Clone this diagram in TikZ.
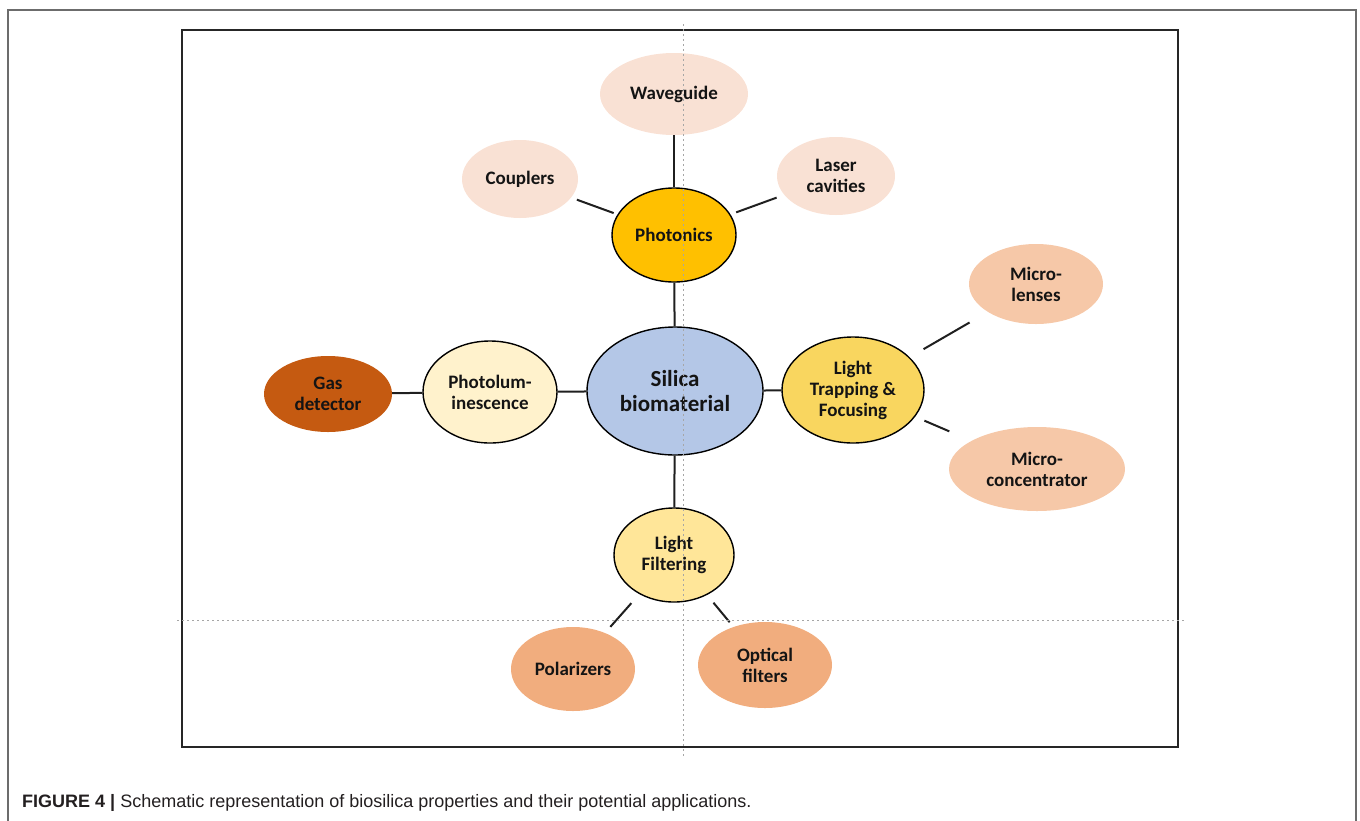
\documentclass[tikz,border=0pt]{standalone}
\usepackage{fontspec}
\setmainfont{Carlito}
\newfontfamily\capfont{Liberation Sans}
\usetikzlibrary{shapes.geometric}
\definecolor{appA}{HTML}{F9E1D4}
\definecolor{appB}{HTML}{F6C8A8}
\definecolor{appC}{HTML}{F1AD7E}
\definecolor{gasC}{HTML}{C55A11}
\definecolor{photC}{HTML}{FFC000}
\definecolor{silC}{HTML}{B4C7E7}
\definecolor{plC}{HTML}{FFF2CC}
\definecolor{trapC}{HTML}{F9D65F}
\definecolor{filtC}{HTML}{FFE699}
\definecolor{capC}{HTML}{231F20}
\begin{document}
\begin{tikzpicture}[x=1pt,y=-1pt,
  bub/.style={ellipse, inner sep=0pt, align=center, text=black!92,
    font=\fontsize{19}{21}\selectfont\bfseries},
  core/.style={bub, draw=black, line width=1.4pt},
  app/.style={bub},
  link/.style={line width=2pt, black!88},
  guide/.style={gray!70, line width=0.8pt, dash pattern=on 2pt off 3pt},
  frameo/.style={gray!85!black, line width=1.5pt},
  framei/.style={black!85, line width=2pt}
]
\useasboundingbox (0,0) rectangle (1360,820);
% frames
\draw[frameo] (8,825) -- (8,10) -- (1356,10) -- (1356,825);
\draw[framei] (182,30) rectangle (1178,747);

% nodes
\node[app, fill=appA, minimum width=148pt, minimum height=82pt] (wave) at (674,94) {Waveguide};
\node[app, fill=appA, minimum width=116pt, minimum height=78pt] (coup) at (520,179) {Couplers};
\node[app, fill=appA, minimum width=118pt, minimum height=78pt] (laser) at (836,176) {Laser\\cavities};
\node[core, fill=photC, minimum width=124pt, minimum height=94pt] (phot) at (674,235) {Photonics};
\node[core, fill=silC, minimum width=176pt, minimum height=128pt,
  font=\fontsize{23}{24.5}\selectfont\bfseries] (sil) at (675,391) {Silica\\biomaterial};
\node[core, fill=plC, minimum width=134pt, minimum height=102pt] (pl) at (490,392) {Photolum-\\inescence};
\node[app, fill=gasC, minimum width=128pt, minimum height=76pt] (gas) at (328,394) {Gas\\detector};
\node[core, fill=trapC, minimum width=142pt, minimum height=106pt] (trap) at (853,390) {Light\\Trapping \&\\Focusing};
\node[app, fill=appB, minimum width=134pt, minimum height=80pt] (lens) at (1036,284) {Micro-\\lenses};
\node[app, fill=appB, minimum width=176pt, minimum height=84pt] (conc) at (1037,469) {Micro-\\concentrator};
\node[core, fill=filtC, minimum width=120pt, minimum height=94pt] (filt) at (674,555) {Light\\Filtering};
\node[app, fill=appC, minimum width=124pt, minimum height=84pt] (pol) at (573,669) {Polarizers};
\node[app, fill=appC, minimum width=134pt, minimum height=86pt] (opt) at (765,665) {Optical\\filters};

% connectors
\draw[link] (phot) -- (wave);
\draw[link, shorten <=4pt, shorten >=6pt] (phot) -- (coup);
\draw[link, shorten <=6pt, shorten >=8pt] (phot) -- (laser);
\draw[link] (sil) -- (phot);
\draw[link] (pl) -- (gas);
\draw[link] (sil) -- (pl);
\draw[link] (sil) -- (trap);
\draw[link] (sil) -- (filt);
\draw[link, shorten <=16pt, shorten >=21pt] (trap) -- (lens);
\draw[link, shorten <=10pt, shorten >=24pt] (trap) -- (conc);
\draw[link, shorten <=12pt, shorten >=8pt] (filt) -- (pol);
\draw[link, shorten <=10pt, shorten >=6pt] (filt) -- (opt);

% guide lines
\draw[guide] (683,24) -- (683,756);
\draw[guide] (177,620) -- (1186,620);

% caption
\node[anchor=base west, inner sep=0pt, text=capC,
  font=\capfont\fontsize{18}{21}\selectfont] (cap) at (22,807)
  {\textbf{FIGURE 4 |} Schematic representation of biosilica properties and their potential applications.};
\end{tikzpicture}
\end{document}
